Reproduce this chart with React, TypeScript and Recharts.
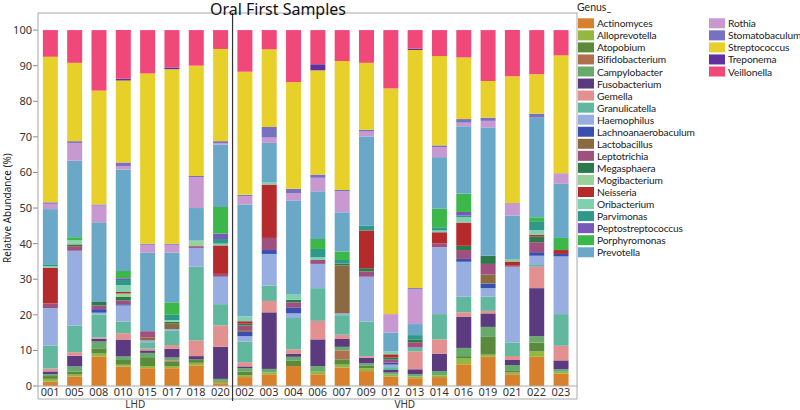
import React from "react";
import { BarChart, Bar, XAxis, YAxis } from "recharts";

const samples = [
  "001", "005", "008", "010", "015", "017", "018", "020",
  "002", "003", "004", "006", "007", "009", "012", "013", "014", "016", "019", "021", "022", "023",
];
const groupNames = ["LHD", "VHD"];
const groupSizes = [8, 14];
const yTicks = [0, 10, 20, 30, 40, 50, 60, 70, 80, 90, 100];

const genera = [
  "Actinomyces", "Alloprevotella", "Atopobium", "Bifidobacterium", "Campylobacter",
  "Fusobacterium", "Gemella", "Granulicatella", "Haemophilus", "Lachnoanaerobaculum",
  "Lactobacillus", "Leptotrichia", "Megasphaera", "Mogibacterium", "Neisseria",
  "Oribacterium", "Parvimonas", "Peptostreptococcus", "Porphyromonas", "Prevotella",
  "Rothia", "Stomatobaculum", "Streptococcus", "Treponema", "Veillonella",
];
const colors = [
  "#d9802c", "#92b842", "#5a8a3c", "#b07050", "#68a96c",
  "#5b3a80", "#e29090", "#62b89e", "#98aee0", "#3a50b0",
  "#8a6a40", "#a0507e", "#2c7a4a", "#98d29a", "#b52a2a",
  "#80d0b0", "#309888", "#7858b8", "#3cb84a", "#6aa8c8",
  "#c898d0", "#7870c0", "#e8d02a", "#6030a0", "#f04878",
];

// relative abundance (%) per genus, one value per sample in the order above
const actinomyces = [1.2, 2.7, 8.3, 5.5, 5, 5, 5.8, 0.8, 2.5, 3.3, 5.6, 3.3, 5.2, 4.2, 2.6, 2.2, 2.5, 6.1, 8.2, 3.3, 8.2, 3.5];
const alloprevotella = [0.8, 0.5, 0.8, 0.5, 0.6, 0.6, 0.7, 0.4, 0.5, 0.5, 0, 0.7, 0.8, 0.8, 0.6, 0.5, 0.5, 1.6, 0.6, 0.5, 1.5, 0.5];
const atopobium = [0.8, 0.8, 1.5, 1.3, 2.5, 1.2, 1, 0.4, 1, 0, 1.6, 0, 1.5, 0.8, 0, 0, 0, 0.7, 5, 0.6, 2.5, 0];
const bifidobacterium = [0, 0, 0, 0, 0, 0.4, 0, 0, 0, 0, 0, 0, 2.5, 0, 0, 0, 0, 0, 0, 0, 0, 0];
const campylobacter = [0.5, 1.5, 1.9, 1, 1.2, 0.8, 0, 0.4, 1, 1, 1, 1.6, 1, 0.6, 0.6, 0.6, 1.2, 2.3, 2.8, 1.5, 1.8, 0.7];
const fusobacterium = [0.8, 3, 0.8, 4.8, 0.7, 2.5, 0.9, 9, 0.5, 15.9, 0.9, 7.5, 2.2, 1.5, 0.7, 1.4, 4.9, 8.7, 3.8, 1.4, 13.5, 2.5];
const gemella = [0.8, 1, 0.3, 1.7, 0.5, 1, 4.4, 6, 1.2, 3.2, 1.2, 5.2, 1.2, 0.5, 0, 5, 4, 1.3, 0.7, 1.1, 6, 4.1];
const granulicatella = [6.5, 7.5, 6.5, 3.3, 1.8, 4, 20.7, 6, 5.8, 4.3, 8.8, 9.2, 5.5, 9.7, 0.8, 1.1, 7.1, 4.4, 4, 3.8, 0.5, 8.9];
const haemophilus = [10.5, 21, 0.5, 4.5, 0.5, 0.5, 5.3, 7.7, 1.5, 8.9, 1.3, 6.8, 0.5, 12.6, 0.7, 0, 18.8, 9.8, 2.4, 21.3, 2.6, 16.2];
const lachnoanaerobaculum = [0, 0, 1, 0.4, 0, 0, 0, 0, 1.2, 1.1, 1.7, 0, 0, 0, 0.6, 0, 0, 0.8, 1.3, 0, 1, 0.7];
const lactobacillus = [0, 0, 0, 0, 0.8, 1.5, 0, 0, 0.5, 0, 0, 0, 13.5, 0, 0, 0, 0, 0, 2.5, 0, 0, 0];
const leptotrichia = [1.3, 1.3, 1, 1, 1.8, 0, 0.5, 0.8, 1.3, 3.4, 1.4, 1.1, 0, 1.5, 0.8, 1.5, 1.1, 2.5, 3, 0.3, 2.8, 0];
const megasphaera = [0, 0.5, 1, 1, 0, 0.5, 0, 0, 0.5, 0, 0.7, 0, 0.5, 0.9, 0.6, 0.8, 0, 1.2, 2.3, 0, 1.6, 0];
const mogibacterium = [0, 0.7, 0, 1, 0, 0.5, 1.2, 0, 0, 0, 0, 0, 0, 0, 0, 0, 0, 0, 0, 0, 0, 0];
const neisseria = [10, 0, 0, 0.4, 0, 0, 0, 8, 0.7, 15, 0, 0, 0, 10.6, 0.9, 0, 3.1, 6.5, 0, 1.2, 0.5, 1.1];
const oribacterium = [0.5, 0.5, 0, 2, 0, 0, 0.5, 0.5, 1.3, 0.7, 1.6, 0.8, 0, 0, 0.8, 0, 0.5, 1.5, 0, 0.7, 1.3, 0];
const parvimonas = [0.5, 0, 0, 1.4, 0, 1.5, 0, 1.3, 0, 0, 0, 2.3, 1, 1.4, 0, 1.2, 0.9, 0.5, 0, 0, 2.5, 0];
const peptostreptococcus = [0, 0, 0, 0.5, 0, 0, 0, 1.5, 0, 0, 0, 0, 0, 0, 0, 0, 0, 1, 0, 0, 0, 0];
const porphyromonas = [0, 0.8, 0, 2, 0, 3.5, 0, 7.5, 0, 0, 0, 2.8, 2.4, 0, 0, 0, 5.2, 5.1, 0, 0, 1.1, 3.4];
const prevotella = [15.5, 21.5, 22.4, 28.5, 22.1, 14, 9, 17.5, 31.5, 11, 26.3, 13.4, 11, 25, 5.3, 3.1, 14.5, 19, 36, 12.2, 28, 15.2];
const rothia = [1.5, 5, 4.7, 1, 2.2, 2.2, 8.7, 0.4, 2.4, 1.5, 2.1, 3.8, 5.9, 1.4, 5.2, 9.8, 2.8, 1, 1.9, 3.5, 0, 3];
const stomatobaculum = [0.4, 0.5, 0.3, 1, 0.3, 0.3, 0.3, 0.6, 0.3, 3, 1.2, 0.9, 0.4, 0.5, 0, 0.3, 0.5, 1, 0.9, 0, 1.1, 0];
const streptococcus = [40.9, 22, 32, 23, 47.8, 49, 31, 25.9, 34.6, 21.8, 30, 29.3, 36.2, 18.8, 63.4, 66.9, 25.1, 17.3, 10.3, 35.6, 11.1, 33.1];
const treponema = [0, 0, 0, 0.5, 0, 0.5, 0, 0, 0, 0, 0, 1.7, 0, 0, 0, 0.4, 0, 0, 0, 0, 0, 0];
const veillonella = [7.5, 9.2, 17, 13.7, 12.2, 10.5, 10, 5.3, 11.7, 5.4, 14.6, 9.6, 8.7, 9.2, 16.4, 5.2, 7.3, 7.7, 14.3, 13, 12.4, 7.1];

const series = [
  actinomyces, alloprevotella, atopobium, bifidobacterium, campylobacter,
  fusobacterium, gemella, granulicatella, haemophilus, lachnoanaerobaculum,
  lactobacillus, leptotrichia, megasphaera, mogibacterium, neisseria,
  oribacterium, parvimonas, peptostreptococcus, porphyromonas, prevotella,
  rothia, stomatobaculum, streptococcus, treponema, veillonella,
];

const data = samples.map((s, i) => {
  const row: Record<string, string | number> = { sample: s };
  genera.forEach((g, j) => (row[g] = series[j][i]));
  return row;
});

const FONT = "'Noto Sans', 'DejaVu Sans', sans-serif";
const LEGEND_FONT = "Lato, 'Noto Sans', sans-serif";
const W = 800;
const H = 410;
const PLOT_L = 38;
const PLOT_R = 573;
const PLOT_T = 13;
const PLOT_B = 386;
const FRAME_R = 577;
const step = (PLOT_R - PLOT_L) / samples.length;

function XTick({ x, y, payload }: any) {
  return (
    <text x={x} y={y + 10} textAnchor="middle" fontSize={11} fill="#333" fontFamily={FONT}>
      {payload.value}
    </text>
  );
}

function Overlay() {
  let start = 0;
  const groups = groupNames.map((name, i) => {
    const x0 = PLOT_L + start * step;
    start += groupSizes[i];
    const x1 = PLOT_L + start * step;
    return { name, x0, x1 };
  });
  return (
    <svg width={W} height={H} style={{ position: "absolute", left: 0, top: 0, pointerEvents: "none" }}>
      <rect x={PLOT_L} y={PLOT_T} width={FRAME_R - PLOT_L} height={PLOT_B - PLOT_T} fill="none" stroke="#aaa" />
      <line x1={PLOT_L} y1={PLOT_B} x2={PLOT_L} y2={399} stroke="#aaa" />
      <line x1={FRAME_R} y1={PLOT_B} x2={FRAME_R} y2={399} stroke="#aaa" />
      <line x1={PLOT_L} y1={399} x2={FRAME_R} y2={399} stroke="#aaa" />
      {groups.slice(1).map((g) => (
        <line key={g.name} x1={g.x0} y1={PLOT_T} x2={g.x0} y2={401} stroke="#333" strokeWidth={1.2} />
      ))}
      {groups.map((g, i) => (
        <text key={g.name} x={(g.x0 + (i === groups.length - 1 ? FRAME_R : g.x1)) / 2} y={408} textAnchor="middle"
          fontSize={10} fill="#333" fontFamily={FONT}>{g.name}</text>
      ))}
      <text x={278} y={15} textAnchor="middle" fontSize={16} fill="#111" fontFamily={FONT}>Oral First Samples</text>
      <text transform="translate(11,208) rotate(-90)" textAnchor="middle" fontSize={10} fill="#222" fontFamily={FONT}>
        Relative Abundance (%)
      </text>
      <text x={577} y={11} fontSize={10.5} fill="#222" fontFamily={LEGEND_FONT}>Genus_</text>
      {genera.map((g, i) => {
        const col = i < 20 ? 0 : 1;
        const row = i < 20 ? i : i - 20;
        const x = col === 0 ? 578 : 709;
        const y = 23.3 + row * 12.05;
        return (
          <g key={g}>
            <rect x={x} y={y - 5} width={16} height={10} fill={colors[i]} />
            <text x={x + 19} y={y + 4} fontSize={10.2} letterSpacing={-0.15} fill="#222" fontFamily={LEGEND_FONT}>{g}</text>
          </g>
        );
      })}
    </svg>
  );
}

export default function App() {
  return (
    <div style={{ position: "absolute", left: 0, top: 0, width: W, height: H, background: "#fff" }}>
      <BarChart
        width={W}
        height={H}
        data={data}
        margin={{ top: PLOT_T, right: W - PLOT_R, left: PLOT_L - 30, bottom: H - PLOT_B - 14 }}
        barCategoryGap="20%"
      >
        <XAxis dataKey="sample" interval={0} tickLine={false} axisLine={false} tickSize={0} tickMargin={0}
          height={14} tick={<XTick />} />
        <YAxis domain={[0, 104.8]} ticks={yTicks} width={30} axisLine={false} tickSize={5} tickMargin={1}
          tickLine={{ stroke: "#888" }} allowDataOverflow
          tick={{ fontSize: 11, fill: "#333", fontFamily: FONT }} />
        {genera.map((g, i) => (
          <Bar key={g} dataKey={g} stackId="a" fill={colors[i]} isAnimationActive={false} />
        ))}
      </BarChart>
      <Overlay />
    </div>
  );
}
